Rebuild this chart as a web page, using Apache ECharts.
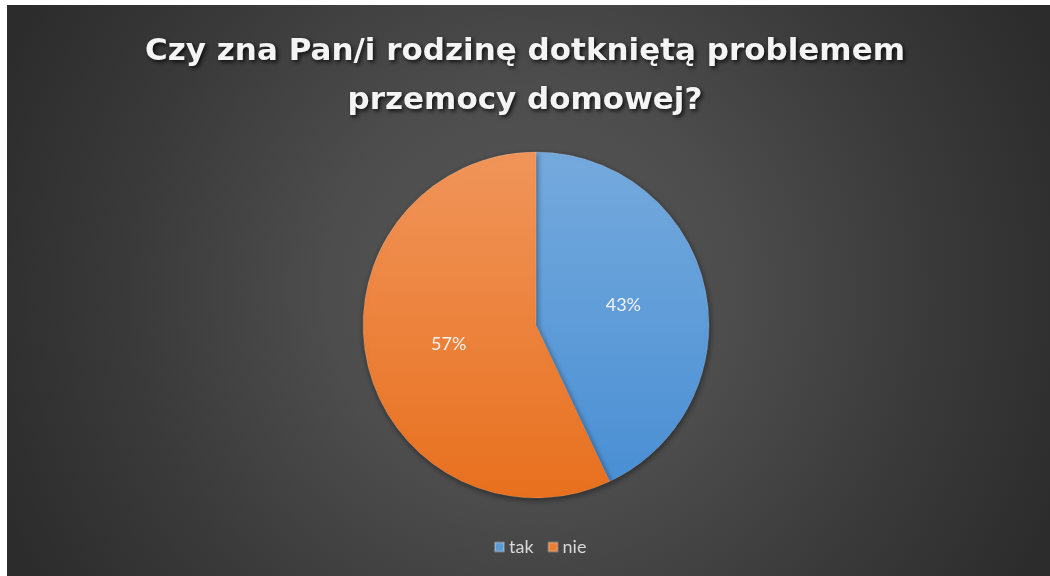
<!DOCTYPE html>
<html>
<head>
<meta charset="utf-8">
<script src="https://cdn.jsdelivr.net/npm/echarts@6/dist/echarts.min.js"></script>
<style>
html,body{margin:0;padding:0;background:#fff;}
#c{width:1050px;height:576px;}
</style>
</head>
<body>
<div id="c"></div>
<script>
const titleLines = ['Czy zna Pan/i rodzinę dotkniętą problemem', 'przemocy domowej?'];
const categories = ['tak', 'nie'];
const values = [43, 57];

const chart = echarts.init(document.getElementById('c'));
const sliceColors = [
  new echarts.graphic.LinearGradient(0, 0, 0, 1, [
    {offset: 0, color: '#75aadd'}, {offset: 1, color: '#4a8fd4'}
  ]),
  new echarts.graphic.LinearGradient(0, 0, 0, 1, [
    {offset: 0, color: '#f0955a'}, {offset: 1, color: '#e8701e'}
  ])
];
const legendColors = ['#5b9bd5', '#ed7d31'];

chart.setOption({
  backgroundColor: '#ffffff',
  animation: false,
  graphic: [{
    type: 'rect',
    z: -10,
    silent: true,
    shape: {x: 7, y: 5, width: 1043, height: 571},
    style: {
      fill: new echarts.graphic.RadialGradient(0.5, 0.5, 1.0, [
        {offset: 0, color: '#575757'},
        {offset: 0.35, color: '#4d4d4d'},
        {offset: 0.7, color: '#3a3a3a'},
        {offset: 1, color: '#2c2c2c'}
      ])
    }
  }],
  title: {
    text: titleLines.join('\n'),
    left: 'center',
    top: 22,
    textStyle: {
      fontFamily: 'DejaVu Sans',
      fontWeight: 'bold',
      fontSize: 31,
      lineHeight: 49,
      color: '#f4f4f4',
      textShadowColor: 'rgba(0,0,0,0.8)',
      textShadowBlur: 4,
      textShadowOffsetX: 2,
      textShadowOffsetY: 2
    }
  },
  legend: {
    bottom: 15,
    left: 489,
    itemWidth: 9,
    itemHeight: 9,
    itemGap: 14,
    icon: 'rect',
    data: categories.map((c, i) => ({name: c, itemStyle: {color: legendColors[i]}})),
    textStyle: {
      color: '#d9d9d9',
      fontFamily: 'Lato',
      fontSize: 18
    }
  },
  series: [{
    type: 'pie',
    center: [536, 325],
    radius: [0, 173],
    startAngle: 90,
    clockwise: true,
    label: {
      show: true,
      position: 'inside',
      formatter: '{c}%',
      color: '#f2f2f2',
      fontFamily: 'Lato',
      fontSize: 18
    },
    labelLine: {show: false},
    itemStyle: {
      borderColor: 'rgba(255,255,255,0.25)',
      borderWidth: 0.6,
      shadowColor: 'rgba(0,0,0,0.45)',
      shadowBlur: 6,
      shadowOffsetX: 1,
      shadowOffsetY: 2
    },
    emphasis: {disabled: true},
    data: categories.map((c, i) => ({name: c, value: values[i], itemStyle: {color: sliceColors[i]}}))
  }]
});
</script>
</body>
</html>
